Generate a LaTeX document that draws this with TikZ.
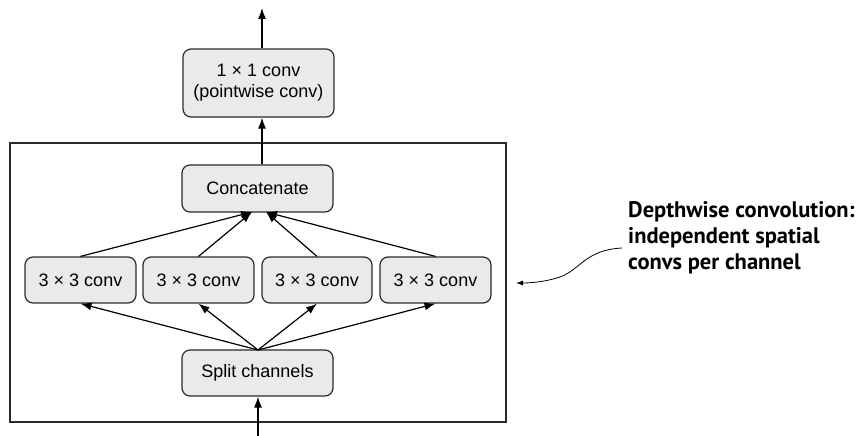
\documentclass[tikz,border=0pt]{standalone}
\usepackage{fontspec}
\setmainfont{Liberation Sans}
\newfontfamily\notefont{PT Sans}
\usetikzlibrary{arrows.meta}
\definecolor{boxfill}{HTML}{E9EAEA}
\definecolor{boxline}{HTML}{2A2A2A}
\begin{document}
\begin{tikzpicture}[x=1pt,y=-1pt,
  blk/.style={draw=boxline,fill=boxfill,rounded corners=8pt,line width=1.2pt,align=center,font=\fontsize{18}{21}\selectfont,inner sep=0pt},
  conn/.style={line width=1.2pt,-{Latex[length=11pt,width=8pt]}}]
\useasboundingbox (0,0) rectangle (859,436);
\draw[line width=1.2pt,draw=boxline] (10,143) rectangle (506,422);
\node[blk,minimum width=151pt,minimum height=68pt] (pw) at (258.5,83) {1 × 1 conv\\(pointwise conv)};
\node[blk,minimum width=151pt,minimum height=47pt] (cat) at (257.5,188.5) {Concatenate};
\node[blk,minimum width=111pt,minimum height=46pt] (c1) at (80.5,280) {3 × 3 conv};
\node[blk,minimum width=111pt,minimum height=46pt] (c2) at (198.5,280) {3 × 3 conv};
\node[blk,minimum width=110pt,minimum height=46pt] (c3) at (317,280) {3 × 3 conv};
\node[blk,minimum width=111pt,minimum height=46pt] (c4) at (435.5,280) {3 × 3 conv};
\node[blk,minimum width=151pt,minimum height=46pt] (sp) at (257.5,373) {Split channels};
\coordinate (top) at (262,8);
\coordinate (bot) at (258,436);
\coordinate (catL) at (252,212);
\coordinate (catR) at (266,212);
\coordinate (spT) at (258,350);
\draw[conn] (pw.north -| top) -- (top);
\draw[conn] (cat.north -| top) -- (pw.south -| top);
\draw[conn] (c1.north) -- (catL);
\draw[conn] (c2.north) -- (catL);
\draw[conn] (c3.north) -- (catR);
\draw[conn] (c4.north) -- (catR);
\draw[conn] (spT) -- (c1.south);
\draw[conn] (spT) -- (c2.south);
\draw[conn] (spT) -- (c3.south);
\draw[conn] (spT) -- (c4.south);
\draw[conn] (bot) -- (sp.south -| bot);
\node[anchor=north west,align=left,inner sep=0pt,font=\notefont\bfseries\fontsize{22.5}{26}\selectfont] (note) at (628,201) {Depthwise convolution:\\independent spatial\\convs per channel};
\coordinate (tip) at (516,283);
\draw[line width=0.8pt,-{Latex[length=7pt,width=5pt]}] (622,248) .. controls (585,250) and (580,270) .. (560,277) .. controls (545,282) and (530,283) .. (tip);
\end{tikzpicture}
\end{document}
